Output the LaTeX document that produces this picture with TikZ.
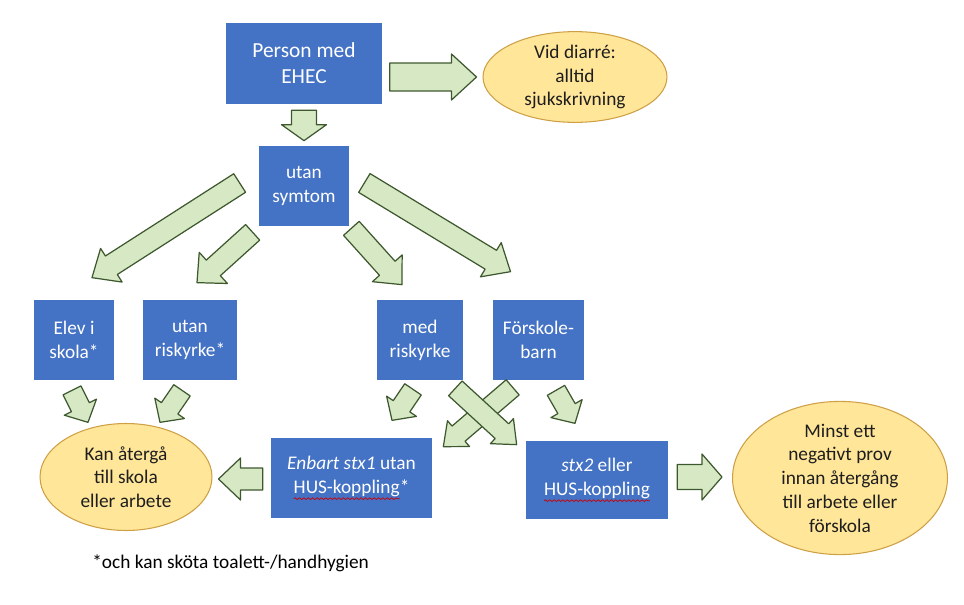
\documentclass[tikz,border=0pt]{standalone}
\usepackage{fontspec}
\setmainfont{Carlito}
\usetikzlibrary{calc,shapes.geometric,decorations.pathmorphing}

\definecolor{boxblue}{RGB}{68,114,196}
\definecolor{ovalfill}{RGB}{255,230,153}
\definecolor{ovaldraw}{RGB}{206,160,70}
\definecolor{arrowfill}{RGB}{214,233,196}
\definecolor{arrowdraw}{RGB}{62,88,46}
\definecolor{inktext}{RGB}{30,30,30}

% fat arrow: tail, tip, shaft half width, head half width, head length
\newcommand{\blockarrow}[5]{%
  \coordinate (ba-t) at #1;
  \coordinate (ba-h) at #2;
  \coordinate (ba-n) at ($(ba-h)!#5!(ba-t)$);
  \filldraw[fatarrow] ($(ba-t)!#3!90:(ba-h)$) -- ($(ba-n)!#3!-90:(ba-t)$)
    -- ($(ba-n)!#4!-90:(ba-t)$) -- (ba-h) -- ($(ba-n)!#4!90:(ba-t)$)
    -- ($(ba-n)!#3!90:(ba-t)$) -- ($(ba-t)!#3!-90:(ba-h)$) -- cycle;}

% spell-check wave under a word
\newcommand{\redwave}[1]{\tikz[baseline=(rw.base)]{\node[shape=rectangle, inner sep=0pt, outer sep=0pt,
    minimum width=0pt, minimum height=0pt, fill=none, draw=none, align=left] (rw) {#1};
  \draw[red!80!black, line width=0.4pt, decorate, decoration={snake, amplitude=0.5pt, segment length=2.5pt}]
    ([yshift=-1.2pt]rw.south west) -- ([yshift=-1.2pt]rw.south east);}}

\begin{document}
\begin{tikzpicture}[x=0.02cm, y=-0.02cm,
    box/.style={rectangle, fill=boxblue, text=white, align=center, inner sep=0pt,
      minimum height=1.6cm, font=\fontsize{11}{13.5}\selectfont},
    oval/.style={ellipse, fill=ovalfill, draw=ovaldraw, line width=0.6pt, text=inktext,
      align=center, inner sep=0pt, font=\fontsize{11}{13.5}\selectfont},
    fatarrow/.style={fill=arrowfill, draw=arrowdraw, line width=0.7pt, line join=round}]

    \useasboundingbox (0,0) rectangle (964,605);

    % boxes
    \node[box, minimum width=3.14cm, minimum height=1.62cm, font=\fontsize{12.2}{14.8}\selectfont] (person) at (304,63.5) {Person med\\EHEC};
    \node[box, minimum width=1.8cm] (sym) at (304,186) {utan\\symtom};
    \node[box, minimum width=1.6cm] (elev) at (74,340) {Elev i\\skola*};
    \node[box, minimum width=1.88cm] (utanr) at (190,340) {utan\\riskyrke*};
    \node[box, minimum width=1.72cm] (med) at (420,340) {med\\riskyrke};
    \node[box, minimum width=1.82cm] (forsk) at (538.5,340) {Förskole-\\barn};
    \node[box, minimum width=3.22cm] (enbart) at (351.5,478) {\textit{Enbart stx1} utan\\\redwave{HUS-koppling}*};
    \node[box, minimum width=2.84cm, minimum height=1.56cm] (stx) at (597,480) {\textit{stx2} eller\\\redwave{HUS-koppling}};

    % ellipses
    \node[oval, minimum width=3.68cm, minimum height=1.62cm] (diarre) at (575,77) {Vid diarré:\\alltid\\sjukskrivning};
    \node[oval, minimum width=3.44cm, minimum height=2.14cm] (kan) at (126,477) {Kan återgå\\till skola\\eller arbete};
    \node[oval, minimum width=4.3cm, minimum height=2.4cm] (minst) at (840,478) {Minst ett\\negativt prov\\innan återgång\\till arbete eller\\förskola};

    % fat arrows
    \blockarrow{($(person.east |- diarre.west)+(7,0)$)}{($(diarre.west)+(-6,0)$)}{0.28cm}{0.46cm}{0.5cm}
    \blockarrow{($(person.south)+(0,6)$)}{($(sym.north)+(0,-5)$)}{0.25cm}{0.45cm}{0.32cm}
    \blockarrow{($(sym.west)+(-19,-3)$)}{($(elev.north)+(18,-22)$)}{0.22cm}{0.4cm}{0.46cm}
    \blockarrow{($(sym.south west)+(-6,6)$)}{($(utanr.north)+(7,-17)$)}{0.21cm}{0.42cm}{0.44cm}
    \blockarrow{($(sym.south east)+(2,2)$)}{($(med.north)+(-18,-15)$)}{0.21cm}{0.4cm}{0.44cm}
    \blockarrow{($(sym.east)+(15,-3)$)}{($(forsk.north)+(-28,-28)$)}{0.22cm}{0.4cm}{0.46cm}

    \blockarrow{($(elev.south)+(-2,10)$)}{($(elev.south)+(14,42)$)}{0.2cm}{0.36cm}{0.34cm}
    \blockarrow{($(utanr.south)+(-8,10)$)}{($(utanr.south)+(-30,42)$)}{0.2cm}{0.36cm}{0.34cm}
    \blockarrow{($(med.south)+(-7,9)$)}{($(med.south)+(-28,40)$)}{0.2cm}{0.36cm}{0.34cm}
    \blockarrow{($(forsk.south)+(17.5,10)$)}{($(forsk.south)+(36.5,43)$)}{0.2cm}{0.36cm}{0.34cm}

    \blockarrow{($(forsk.south west)+(20,7)$)}{($(enbart.north east)+(11,9)$)}{0.2cm}{0.34cm}{0.4cm}
    \blockarrow{($(med.south east)+(-8,8)$)}{($(stx.north west)+(-9,4)$)}{0.2cm}{0.34cm}{0.4cm}

    \blockarrow{($(enbart.west)+(-8,1)$)}{($(kan.east)+(6,2)$)}{0.22cm}{0.42cm}{0.44cm}
    \blockarrow{($(stx.east)+(9,-3)$)}{($(minst.west)+(-10,-1)$)}{0.25cm}{0.46cm}{0.4cm}

    % footnote
    \node[anchor=west, inner sep=0pt, font=\fontsize{11}{13.5}\selectfont] (note) at (92,563) {*och kan sköta toalett-/handhygien};

\end{tikzpicture}
\end{document}
